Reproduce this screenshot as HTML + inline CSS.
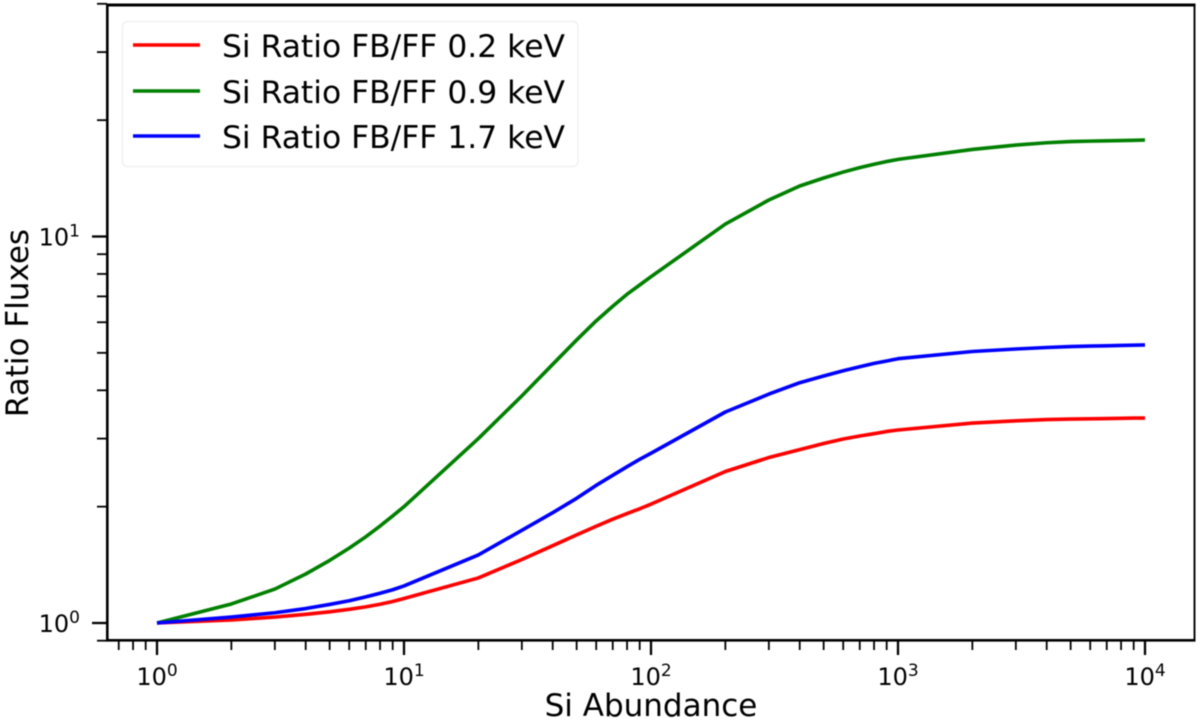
<!DOCTYPE html>
<html>
<head>
<meta charset="utf-8">
<title>Si Ratio FB/FF vs Si Abundance</title>
<style>
html,body{margin:0;padding:0;background:#fff;width:1200px;height:723px;overflow:hidden}
svg{display:block;filter:blur(0.4px)}
text{font-family:"DejaVu Sans","Liberation Sans",sans-serif;fill:#000}
</style>
</head>
<body>
<svg id="chart" width="1200" height="723" viewBox="0 0 1200 723" xmlns="http://www.w3.org/2000/svg">
  <rect x="0" y="0" width="1200" height="723" fill="#fff"/>
  <g id="ticks"></g>
  <g id="lines"></g>
  <g stroke="#000">
    <line x1="107.3" x2="107.3" y1="3.5" y2="641.5" stroke-width="2.6"/>
    <line x1="106" x2="1195.5" y1="640.3" y2="640.3" stroke-width="2.6"/>
    <line x1="106" x2="1195.5" y1="5" y2="5" stroke-width="3"/>
    <line x1="1194.5" x2="1194.5" y1="3.5" y2="641.5" stroke-width="1.9"/>
  </g>
  <g>
    <rect x="122.5" y="21.5" width="455.5" height="145" rx="5" fill="#fff" fill-opacity="0.8" stroke="#eeeeee" stroke-width="1.2"/>
    <line x1="133" x2="200" y1="45" y2="45" stroke="#ff0000" stroke-width="3.6"/>
    <text x="222" y="57" font-size="31" textLength="343" lengthAdjust="spacingAndGlyphs">Si Ratio FB/FF 0.2 keV</text>
    <line x1="133" x2="200" y1="91" y2="91" stroke="#008000" stroke-width="3.6"/>
    <text x="222" y="103" font-size="31" textLength="343" lengthAdjust="spacingAndGlyphs">Si Ratio FB/FF 0.9 keV</text>
    <line x1="133" x2="200" y1="136" y2="136" stroke="#0000ff" stroke-width="3.6"/>
    <text x="222" y="148" font-size="31" textLength="343" lengthAdjust="spacingAndGlyphs">Si Ratio FB/FF 1.7 keV</text>
  </g>
  <text x="651" y="716" font-size="31" text-anchor="middle">Si Abundance</text>
  <text transform="translate(28,323) rotate(-90)" font-size="31" text-anchor="middle">Ratio Fluxes</text>
</svg>
<script>
const abundance = [1,2,3,4,5,6,7,8,9,10,20,30,40,50,60,70,80,90,100,200,300,400,500,600,700,800,900,1000,2000,3000,4000,5000,6000,7000,8000,9000,10000];
const ratio02 = [1,1.018,1.036,1.053,1.069,1.085,1.101,1.118,1.137,1.157,1.308,1.46,1.585,1.69,1.78,1.856,1.919,1.975,2.03,2.466,2.68,2.81,2.913,2.993,3.046,3.089,3.13,3.158,3.29,3.336,3.36,3.37,3.375,3.38,3.385,3.39,3.39];
const ratio09 = [1,1.12,1.224,1.339,1.452,1.562,1.671,1.782,1.892,2.0,3.0,3.87,4.67,5.4,6.05,6.6,7.09,7.49,7.87,10.77,12.43,13.51,14.17,14.68,15.07,15.38,15.63,15.83,16.8,17.24,17.48,17.6,17.65,17.68,17.71,17.74,17.77];
const ratio17 = [1,1.036,1.063,1.09,1.117,1.142,1.168,1.194,1.219,1.247,1.5,1.737,1.929,2.102,2.271,2.411,2.538,2.652,2.749,3.515,3.91,4.185,4.355,4.495,4.603,4.697,4.763,4.828,5.04,5.116,5.162,5.19,5.205,5.215,5.225,5.235,5.24];
const xMajorTicks = [1,10,100,1000,10000];
const xMinorTicks = [0.7,0.8,0.9,2,3,4,5,6,7,8,9,20,30,40,50,60,70,80,90,200,300,400,500,600,700,800,900,2000,3000,4000,5000,6000,7000,8000,9000];
const yMajorTicks = [1,10];
const yMinorTicks = [0.9,2,3,4,5,6,7,8,9,20,30,40];
const tickExponents = {1:'0',10:'1',100:'2',1000:'3',10000:'4'};

const NS = 'http://www.w3.org/2000/svg';
function xScale(v){ return 157 + 247 * Math.log10(v); }
function yScale(v){ return 623 - 386.5 * Math.log10(v); }

const ticks = document.getElementById('ticks');
const lines = document.getElementById('lines');

function tickLine(x1,y1,x2,y2,w,name){
  const el = document.createElementNS(NS,'line');
  
  
  el.setAttribute('x1',x1); el.setAttribute('y1',y1);
  el.setAttribute('x2',x2); el.setAttribute('y2',y2);
  el.setAttribute('stroke','#000');
  el.setAttribute('stroke-width',w);
  ticks.appendChild(el);
}
function powerLabel(x,y,anchor,exp,name){
  const t = document.createElementNS(NS,'text');
  
  
  t.setAttribute('x',x); t.setAttribute('y',y);
  t.setAttribute('font-size','24');
  t.setAttribute('text-anchor',anchor);
  t.appendChild(document.createTextNode('10'));
  const s = document.createElementNS(NS,'tspan');
  s.setAttribute('font-size','17');
  s.setAttribute('dy','-9');
  s.textContent = exp;
  t.appendChild(s);
  ticks.appendChild(t);
}
xMinorTicks.forEach(function(v){
  const x = xScale(v);
  tickLine(x,640,x,650,1.8,'x-minor-tick');
});
xMajorTicks.forEach(function(v){
  const x = xScale(v);
  tickLine(x,640,x,655,2.3,'x-major-tick');
  powerLabel(x,685,'middle',tickExponents[v],'x-tick-label');
});
yMinorTicks.forEach(function(v){
  const y = yScale(v);
  tickLine(97,y,107,y,1.8,'y-minor-tick');
});
yMajorTicks.forEach(function(v){
  const y = yScale(v);
  tickLine(92,y,107,y,2.3,'y-major-tick');
  powerLabel(80,y+9,'end',tickExponents[v],'y-tick-label');
});

function drawSeries(values,color,name){
  const p = document.createElementNS(NS,'polyline');
  
  
  p.setAttribute('fill','none');
  p.setAttribute('stroke',color);
  p.setAttribute('stroke-width','3.6');
  p.setAttribute('stroke-linejoin','round');
  p.setAttribute('points', values.map(function(v,i){
    return xScale(abundance[i]).toFixed(2)+','+yScale(v).toFixed(2);
  }).join(' '));
  lines.appendChild(p);
}
drawSeries(ratio02,'#ff0000','series-0-2-kev');
drawSeries(ratio09,'#008000','series-0-9-kev');
drawSeries(ratio17,'#0000ff','series-1-7-kev');
</script>
</body>
</html>
